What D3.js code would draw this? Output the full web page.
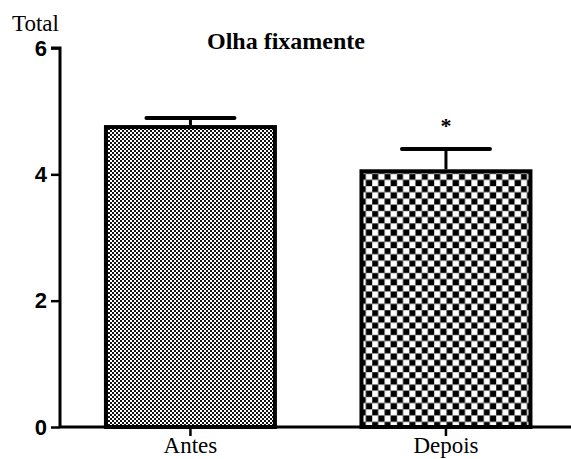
<!DOCTYPE html>
<html>
<head>
<meta charset="utf-8">
<script src="https://cdn.jsdelivr.net/npm/d3@7/dist/d3.min.js"></script>
<style>
  html, body { margin: 0; padding: 0; background: #fff; }
  svg { display: block; }
</style>
</head>
<body>
<svg id="chart" width="571" height="459"></svg>
<script>
// Data
const categories = ["Antes", "Depois"];
const means = [4.78, 4.08];
const sems = [0.11, 0.32];
const significance = ["", "*"];
const yTicks = [0, 2, 4, 6];

const svg = d3.select("#chart");

const x = d3.scaleBand()
  .domain(categories)
  .range([60, 576.4])
  .paddingInner(0.323)
  .paddingOuter(0.172);

const y = d3.scaleLinear()
  .domain([0, 6])
  .range([427, 48]);

// Fill patterns: fine checker for the first bar, coarse checker for the second
const defs = svg.append("defs");

const fine = defs.append("pattern")
  .attr("id", "checkFine")
  .attr("patternUnits", "userSpaceOnUse")
  .attr("width", 4).attr("height", 4);
fine.append("rect").attr("width", 4).attr("height", 4).attr("fill", "#fff");
fine.append("rect").attr("x", 0).attr("y", 0).attr("width", 2).attr("height", 2).attr("fill", "#111");
fine.append("rect").attr("x", 2).attr("y", 2).attr("width", 2).attr("height", 2).attr("fill", "#111");

const cs = 6.2;
const coarse = defs.append("pattern")
  .attr("id", "checkCoarse")
  .attr("patternUnits", "userSpaceOnUse")
  .attr("width", cs * 2).attr("height", cs * 2);
coarse.append("rect").attr("width", cs * 2).attr("height", cs * 2).attr("fill", "#fff");
coarse.append("rect").attr("x", 0).attr("y", 0).attr("width", cs).attr("height", cs).attr("fill", "#000");
coarse.append("rect").attr("x", cs).attr("y", cs).attr("width", cs).attr("height", cs).attr("fill", "#000");
coarse.append("path")
  .attr("d", `M0,0H${cs*2}M0,${cs}H${cs*2}M0,0V${cs*2}M${cs},0V${cs*2}`)
  .attr("stroke", "#888").attr("stroke-width", 0.8).attr("fill", "none");

const fills = ["url(#checkFine)", "url(#checkCoarse)"];

const data = categories.map((c, i) => ({ cat: c, mean: means[i], sem: sems[i], sig: significance[i], fill: fills[i] }));

// Bars
const sw = 4;
svg.append("g").selectAll("rect")
  .data(data)
  .join("rect")
  .attr("x", d => x(d.cat) + sw / 2)
  .attr("y", d => y(d.mean) + sw / 2)
  .attr("width", x.bandwidth() - sw)
  .attr("height", d => y(0) - y(d.mean) - sw / 2)
  .attr("fill", d => d.fill)
  .attr("stroke", "#000")
  .attr("stroke-width", sw);

// Error bars (upper only)
const eb = svg.append("g");
data.forEach(d => {
  const cx = x(d.cat) + x.bandwidth() / 2;
  eb.append("line")
    .attr("x1", cx).attr("x2", cx)
    .attr("y1", y(d.mean)).attr("y2", y(d.mean + d.sem))
    .attr("stroke", "#000").attr("stroke-width", 3);
  eb.append("line")
    .attr("x1", cx - 44).attr("x2", cx + 44)
    .attr("y1", y(d.mean + d.sem)).attr("y2", y(d.mean + d.sem))
    .attr("stroke", "#000").attr("stroke-width", 4).attr("stroke-linecap", "round");
  if (d.sig) {
    eb.append("text")
      .attr("x", cx).attr("y", y(d.mean + d.sem) - 16)
      .attr("text-anchor", "middle")
      .attr("font-family", "Liberation Serif, Times New Roman, serif")
      .attr("font-weight", "bold")
      .attr("font-size", 22)
      .attr("fill", "#000")
      .text(d.sig);
  }
});

// Y axis
const yAxis = svg.append("g")
  .attr("transform", "translate(60,0)")
  .call(d3.axisLeft(y).tickValues(yTicks).tickSize(9).tickPadding(4).tickFormat(d3.format("d")));
yAxis.select(".domain").attr("stroke", "#000").attr("stroke-width", 3)
  .attr("d", `M-9,${y(6)}H0V${y(0)}`);
yAxis.selectAll(".tick line").attr("stroke", "#000").attr("stroke-width", 2.5);
yAxis.selectAll(".tick text")
  .attr("font-family", "Liberation Sans, Arial, sans-serif")
  .attr("font-weight", "bold")
  .attr("font-size", 22)
  .attr("fill", "#000");

// X axis
const xAxis = svg.append("g")
  .attr("transform", `translate(0,${y(0)})`)
  .call(d3.axisBottom(x).tickSize(9).tickPadding(4));
xAxis.select(".domain").attr("stroke", "#000").attr("stroke-width", 3)
  .attr("d", `M60,0H571`);
xAxis.selectAll(".tick line").attr("stroke", "#000").attr("stroke-width", 2.5);
xAxis.selectAll(".tick text")
  .attr("font-family", "Liberation Serif, Times New Roman, serif")
  .attr("font-size", 23)
  .attr("fill", "#000")
  .attr("y", 0)
  .attr("dy", 0)
  .attr("transform", "translate(0,26)");

// Axis title and chart title
svg.append("text")
  .attr("x", 12).attr("y", 31)
  .attr("font-family", "Liberation Serif, Times New Roman, serif")
  .attr("font-size", 23)
  .attr("fill", "#000")
  .text("Total");

svg.append("text")
  .attr("x", 286).attr("y", 49)
  .attr("text-anchor", "middle")
  .attr("font-family", "Liberation Serif, Times New Roman, serif")
  .attr("font-weight", "bold")
  .attr("font-size", 24)
  .attr("fill", "#000")
  .text("Olha fixamente");
</script>
</body>
</html>
